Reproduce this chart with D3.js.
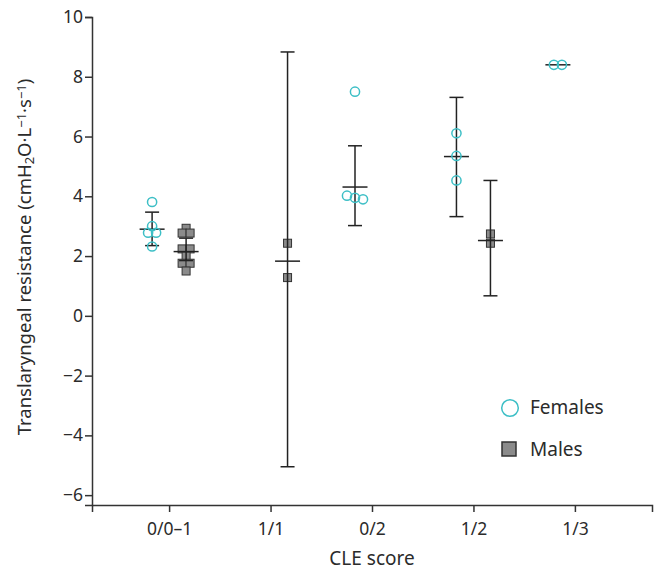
<!DOCTYPE html>
<html>
<head>
  <script src="https://d3js.org/d3.v7.min.js"></script>
  <style>
    body { margin: 0; background: #fff; }
    text { font-family: "Noto Sans", sans-serif; fill: #2b2b2b; }
    .axis path, .axis line { stroke: #333; stroke-width: 1.5px; }
    .axis text { font-size: 17.5px; }
  </style>
</head>
<body>
  <svg width="660" height="570"></svg>

  <script>
    // categories on the x axis
    const categories = ["0/0\u20131", "1/1", "0/2", "1/2", "1/3"];
    const yTicks = [-6, -4, -2, 0, 2, 4, 6, 8, 10];

    // individual values per category
    const femaleValues = [
      [3.81, 3.0, 2.78, 2.78, 2.32],
      [],
      [7.5, 4.02, 3.95, 3.9],
      [6.11, 5.35, 4.53],
      [8.4, 8.4]
    ];
    const maleValues = [
      [2.93, 2.77, 2.77, 2.24, 2.24, 2.0, 1.76, 1.76, 1.5],
      [2.43, 1.28],
      [],
      [2.74, 2.43],
      []
    ];

    // summary line + error bar (null = no group)
    const femaleMean = [2.9, null, 4.31, 5.33, 8.4];
    const femaleLow  = [2.35, null, 3.02, 3.32, 8.4];
    const femaleHigh = [3.47, null, 5.69, 7.31, 8.4];
    const maleMean = [2.15, 1.83, null, 2.52, null];
    const maleLow  = [1.85, -5.05, null, 0.67, null];
    const maleHigh = [2.6, 8.83, null, 4.53, null];

    const svg = d3.select('svg');
    const teal = '#3dbfc6';

    const x = d3.scalePoint().domain(categories).range([92, 652]).padding(0.76);
    const y = d3.scaleLinear().domain([-6.33, 10]).range([505, 17]);

    svg.append('g')
      .attr('class', 'axis')
      .attr('transform', 'translate(0,505)')
      .call(d3.axisBottom(x).tickSizeOuter(0).tickSize(7).tickPadding(11));
    svg.append('g')
      .attr('class', 'axis')
      .attr('transform', 'translate(92,0)')
      .call(d3.axisLeft(y).tickValues(yTicks).tickSizeOuter(0).tickSize(7).tickPadding(2)
        .tickFormat(d => d < 0 ? '\u2212' + Math.abs(d) : d));

    // axis titles
    svg.append('text')
      .attr('x', 372).attr('y', 565)
      .attr('text-anchor', 'middle')
      .style('font-size', '19px')
      .text('CLE score');

    const yt = svg.append('text')
      .attr('transform', 'translate(31,257) rotate(-90)')
      .attr('text-anchor', 'middle')
      .style('font-size', '18.5px');
    yt.append('tspan').text('Translaryngeal resistance (cmH');
    yt.append('tspan').attr('baseline-shift', '-25%').style('font-size', '13px').text('2');
    yt.append('tspan').text('O\u00b7L');
    yt.append('tspan').attr('baseline-shift', '40%').style('font-size', '13px').text('\u22121');
    yt.append('tspan').text('\u00b7s');
    yt.append('tspan').attr('baseline-shift', '40%').style('font-size', '13px').text('\u22121');
    yt.append('tspan').text(')');

    // spread points that sit on about the same height side by side
    function layout(values, cx, spacing) {
      const pts = values.map(v => ({ v: v, py: y(v) })).sort((a, b) => a.py - b.py);
      const rows = [];
      pts.forEach(p => {
        const last = rows[rows.length - 1];
        if (last && p.py - last[0].py < 4) last.push(p);
        else rows.push([p]);
      });
      rows.forEach(r => r.forEach((p, i) => { p.px = cx + (i - (r.length - 1) / 2) * spacing; }));
      return pts;
    }

    const dx = 17;
    const squares = [], circles = [];
    categories.forEach((c, i) => {
      layout(maleValues[i], x(c) + dx, 8).forEach(p => squares.push(p));
      layout(femaleValues[i], x(c) - dx, 8).forEach(p => circles.push(p));
    });

    svg.append('g').selectAll('rect')
      .data(squares)
      .enter().append('rect')
      .attr('x', d => d.px - 4).attr('y', d => d.py - 4)
      .attr('width', 8).attr('height', 8)
      .attr('fill', '#8b8b8b').attr('stroke', '#333').attr('stroke-width', 1);

    // error bars
    function bars(mean, low, high, off) {
      const g = svg.append('g').attr('stroke', '#222').attr('stroke-width', 1.5);
      categories.forEach((c, i) => {
        if (mean[i] === null) return;
        const cx = x(c) + off;
        if (high[i] !== low[i]) {
          g.append('line').attr('x1', cx).attr('x2', cx).attr('y1', y(low[i])).attr('y2', y(high[i]));
          g.append('line').attr('x1', cx - 7).attr('x2', cx + 7).attr('y1', y(low[i])).attr('y2', y(low[i]));
          g.append('line').attr('x1', cx - 7).attr('x2', cx + 7).attr('y1', y(high[i])).attr('y2', y(high[i]));
        }
        g.append('line').attr('x1', cx - 12.5).attr('x2', cx + 12.5).attr('y1', y(mean[i])).attr('y2', y(mean[i]));
      });
    }
    bars(maleMean, maleLow, maleHigh, dx);
    bars(femaleMean, femaleLow, femaleHigh, -dx);

    svg.append('g').selectAll('circle')
      .data(circles)
      .enter().append('circle')
      .attr('cx', d => d.px).attr('cy', d => d.py).attr('r', 4.6)
      .attr('fill', 'none').attr('stroke', teal).attr('stroke-width', 1.5);

    // legend
    const lg = svg.append('g');
    lg.append('circle').attr('cx', 510).attr('cy', 408).attr('r', 8.3)
      .attr('fill', 'none').attr('stroke', teal).attr('stroke-width', 1.5);
    lg.append('text').attr('x', 530).attr('y', 414).style('font-size', '19px').text('Females');
    lg.append('rect').attr('x', 502).attr('y', 442).attr('width', 14).attr('height', 14)
      .attr('fill', '#8b8b8b').attr('stroke', '#333').attr('stroke-width', 1.5);
    lg.append('text').attr('x', 530).attr('y', 456).style('font-size', '19px').text('Males');
  </script>
</body>
</html>
